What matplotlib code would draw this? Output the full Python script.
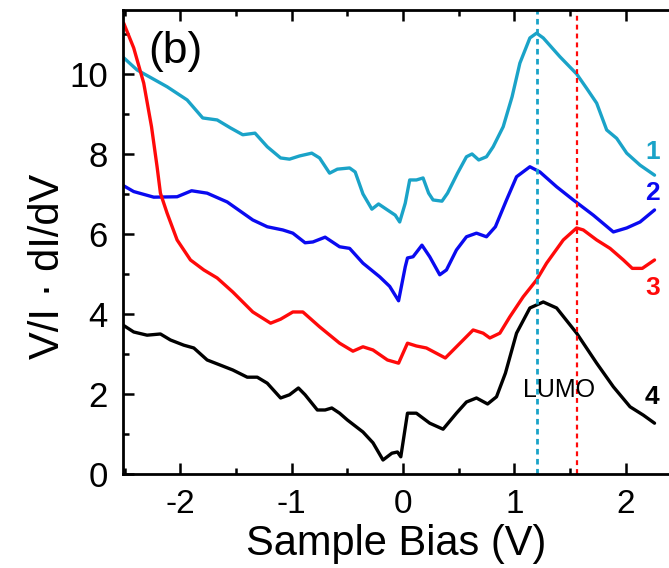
import matplotlib
matplotlib.use("Agg")
import matplotlib.pyplot as plt
from matplotlib.ticker import MultipleLocator

plt.rcParams['font.family'] = ['Liberation Sans', 'DejaVu Sans']

# Curve 1 (cyan)
x1 = [-2.52, -2.39, -2.12, -1.94, -1.80, -1.67, -1.55, -1.44, -1.33, -1.22, -1.10, -1.02,
      -0.93, -0.82, -0.75, -0.66, -0.59, -0.48, -0.43, -0.36, -0.28, -0.22, -0.14, -0.07,
      -0.03, 0.02, 0.06, 0.12, 0.18, 0.23, 0.27, 0.35, 0.40, 0.49, 0.57, 0.62, 0.68, 0.75,
      0.81, 0.90, 0.98, 1.05, 1.14, 1.20, 1.26, 1.41, 1.56, 1.65, 1.74, 1.83, 1.92, 2.01,
      2.13, 2.26]
y1 = [10.43, 10.10, 9.68, 9.35, 8.90, 8.85, 8.65, 8.48, 8.52, 8.18, 7.90, 7.87,
      7.95, 8.02, 7.90, 7.52, 7.62, 7.65, 7.55, 7.00, 6.62, 6.75, 6.60, 6.47,
      6.30, 6.77, 7.35, 7.35, 7.40, 7.02, 6.85, 6.82, 7.02, 7.52, 7.93, 8.00, 7.85, 7.93,
      8.18, 8.68, 9.43, 10.27, 10.90, 11.02, 10.90, 10.43, 10.00, 9.64, 9.27, 8.60, 8.39, 8.02,
      7.72, 7.47]

# Curve 2 (blue)
x2 = [-2.52, -2.42, -2.24, -2.03, -1.90, -1.76, -1.58, -1.35, -1.22, -1.08, -0.99, -0.88,
      -0.81, -0.70, -0.57, -0.48, -0.36, -0.21, -0.12, -0.04, 0.02, 0.04, 0.09, 0.17,
      0.24, 0.33, 0.39, 0.48, 0.57, 0.66, 0.75, 0.83, 0.93, 1.02, 1.14, 1.23, 1.38, 1.53,
      1.71, 1.89, 2.01, 2.13, 2.26]
y2 = [7.22, 7.06, 6.92, 6.93, 7.08, 7.02, 6.80, 6.35, 6.18, 6.10, 6.02, 5.78,
      5.80, 5.92, 5.68, 5.64, 5.27, 4.93, 4.69, 4.33, 5.18, 5.40, 5.43, 5.72,
      5.43, 4.98, 5.10, 5.60, 5.93, 6.02, 5.93, 6.18, 6.85, 7.43, 7.68, 7.55, 7.18, 6.85,
      6.47, 6.05, 6.15, 6.30, 6.60]

# Curve 3 (red)
x3 = [-2.51, -2.42, -2.33, -2.26, -2.21, -2.18, -2.12, -2.03, -1.91, -1.79, -1.67, -1.53,
      -1.35, -1.19, -1.10, -0.99, -0.90, -0.75, -0.57, -0.45, -0.36, -0.27, -0.14, -0.04,
      0.04, 0.12, 0.21, 0.38, 0.48, 0.63, 0.72, 0.78, 0.87, 0.96, 1.08, 1.20, 1.29, 1.44,
      1.56, 1.62, 1.74, 1.86, 1.98, 2.06, 2.15, 2.26]
y3 = [11.27, 10.65, 9.77, 8.68, 7.68, 7.02, 6.52, 5.85, 5.35, 5.10, 4.90, 4.55,
      4.05, 3.77, 3.87, 4.05, 4.05, 3.68, 3.27, 3.07, 3.18, 3.10, 2.85, 2.77,
      3.27, 3.20, 3.15, 2.90, 3.18, 3.60, 3.52, 3.40, 3.52, 3.93, 4.43, 4.85, 5.27, 5.85,
      6.15, 6.10, 5.85, 5.64, 5.35, 5.14, 5.14, 5.35]

# Curve 4 (black)
x4 = [-2.52, -2.42, -2.30, -2.18, -2.09, -1.97, -1.88, -1.76, -1.64, -1.53, -1.40, -1.31,
      -1.22, -1.10, -1.02, -0.94, -0.88, -0.77, -0.70, -0.64, -0.57, -0.50, -0.36, -0.27,
      -0.18, -0.10, -0.05, -0.02, 0.04, 0.12, 0.24, 0.36, 0.48, 0.57, 0.66, 0.76, 0.84,
      0.92, 1.02, 1.14, 1.26, 1.38, 1.56, 1.74, 1.89, 2.04, 2.16, 2.26]
y4 = [3.73, 3.55, 3.47, 3.50, 3.35, 3.22, 3.15, 2.85, 2.72, 2.60, 2.42, 2.42,
      2.27, 1.90, 1.98, 2.15, 1.98, 1.60, 1.60, 1.65, 1.52, 1.35, 1.05, 0.78,
      0.35, 0.52, 0.55, 0.43, 1.52, 1.52, 1.27, 1.12, 1.52, 1.80, 1.90, 1.75, 1.93,
      2.52, 3.52, 4.15, 4.30, 4.15, 3.52, 2.77, 2.18, 1.68, 1.47, 1.27]

lumo_cyan = 1.20
lumo_red = 1.56

c_cyan = '#1AA3C8'
c_blue = '#0A0AF0'
c_red = '#FF0A0A'
c_black = '#000000'

fig = plt.figure(figsize=(6.69, 5.68), dpi=100)
ax = fig.add_axes([0.1839, 0.1655, 1 - 0.1839, 0.817])

lw = 2.4
for xs, ys, c in [(x1, y1, c_cyan), (x2, y2, c_blue), (x3, y3, c_red), (x4, y4, c_black)]:
    ax.plot(xs, ys, color=c, lw=lw, solid_joinstyle='round', solid_capstyle='round')

ax.axvline(lumo_cyan, color=c_cyan, lw=2.0, ls=(0, (2.0, 1.6)))
ax.axvline(lumo_red, color=c_red, lw=1.6, ls=(0, (2.2, 1.8)))

ax.set_xlim(-2.516, 2.39)
ax.set_ylim(0, 11.6)

ax.xaxis.set_major_locator(MultipleLocator(1))
ax.xaxis.set_minor_locator(MultipleLocator(0.5))
ax.yaxis.set_major_locator(MultipleLocator(2))
ax.yaxis.set_minor_locator(MultipleLocator(1))
ax.tick_params(which='both', direction='in', top=True, right=False, width=1.8)
ax.tick_params(which='major', length=8, labelsize=24)
ax.tick_params(which='minor', length=4.5)
ax.tick_params(axis='x', pad=11)
ax.tick_params(axis='y', labelsize=25, pad=11)
ax.set_xticks([-2, -1, 0, 1, 2])
ax.set_xticklabels(['-2', '-1', '0', '1', '2'])

for s in ['left', 'bottom', 'top']:
    ax.spines[s].set_linewidth(2.0)
ax.spines['right'].set_visible(False)

ax.set_xlabel('Sample Bias (V)', fontsize=30, labelpad=3)
ax.set_ylabel('V/I \u00b7 dI/dV', fontsize=30)
ax.yaxis.set_label_coords(-0.100, 0.448)

ax.text(-2.05, 10.55, '(b)', fontsize=32, ha='center', va='center')
ax.text(1.40, 2.1, 'LUMO', fontsize=18, ha='center', va='center')
ax.text(2.24, 8.05, '1', color=c_cyan, fontsize=19, fontweight='bold', ha='center', va='center')
ax.text(2.24, 7.02, '2', color=c_blue, fontsize=19, fontweight='bold', ha='center', va='center')
ax.text(2.24, 4.65, '3', color=c_red, fontsize=19, fontweight='bold', ha='center', va='center')
ax.text(2.24, 1.93, '4', color=c_black, fontsize=19, fontweight='bold', ha='center', va='center')

fig.savefig('out.png', dpi=100)
